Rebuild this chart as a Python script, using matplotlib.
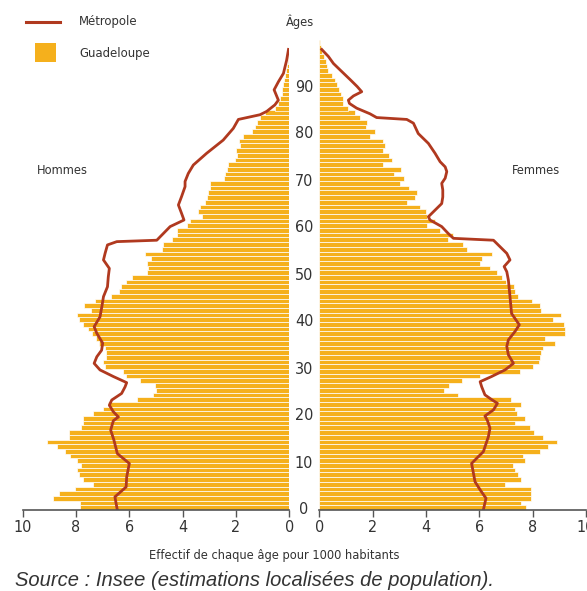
import matplotlib
matplotlib.use('Agg')
import matplotlib.pyplot as plt
from matplotlib.lines import Line2D
from matplotlib.patches import Rectangle
from matplotlib.transforms import blended_transform_factory

# --- data (per 1000 inhabitants) ---
ages = list(range(100))

hommes_gpe = [7.85, 7.85, 8.85, 8.62, 8.03, 7.37, 7.75, 7.90, 7.95, 7.80,
              7.97, 8.22, 8.43, 8.70, 9.10, 8.28, 8.25, 7.82, 7.72, 7.72,
              7.35, 7.00, 6.79, 5.72, 5.10, 5.00, 5.03, 5.60, 6.12, 6.22,
              6.91, 6.97, 6.87, 6.88, 6.92, 7.13, 7.26, 7.40, 7.54, 7.75,
              7.87, 7.97, 7.45, 7.70, 7.29, 6.70, 6.40, 6.30, 6.14, 5.90,
              5.35, 5.29, 5.35, 5.20, 5.41, 4.79, 4.72, 4.41, 4.22, 4.22,
              3.85, 3.72, 3.29, 3.41, 3.35, 3.16, 3.10, 3.04, 2.97, 2.97,
              2.45, 2.41, 2.32, 2.29, 2.04, 1.97, 2.00, 1.85, 1.87, 1.72,
              1.41, 1.29, 1.22, 1.10, 0.91, 0.54, 0.41, 0.35, 0.29, 0.29,
              0.22, 0.20, 0.16, 0.12, 0.10, 0.06, 0.04, 0.03, 0.02, 0.01]

femmes_gpe = [7.75, 7.56, 7.92, 7.93, 7.93, 6.96, 7.55, 7.46, 7.35, 7.25,
              7.71, 7.65, 8.27, 8.56, 8.90, 8.40, 8.05, 7.90, 7.34, 7.70,
              7.40, 7.34, 7.55, 7.18, 5.21, 4.68, 4.88, 5.34, 6.03, 7.53,
              8.00, 8.25, 8.27, 8.30, 8.40, 8.84, 8.46, 9.21, 9.21, 9.18,
              8.78, 9.05, 8.33, 8.27, 7.96, 7.46, 7.35, 7.30, 7.00, 6.84,
              6.65, 6.40, 6.03, 6.09, 6.46, 5.53, 5.40, 4.84, 5.00, 4.53,
              4.03, 4.34, 4.03, 4.00, 3.78, 3.30, 3.59, 3.68, 3.38, 3.03,
              3.18, 2.81, 3.05, 2.40, 2.71, 2.63, 2.38, 2.46, 2.38, 1.90,
              2.09, 1.75, 1.78, 1.53, 1.34, 1.09, 0.90, 0.88, 0.80, 0.75,
              0.68, 0.59, 0.49, 0.34, 0.30, 0.25, 0.18, 0.11, 0.06, 0.03]

metro_h_age = [0, 1.5, 2.8, 4.9, 7.0, 9.9, 12.0, 14.9, 17.0, 19.0,
               19.8, 20.9, 22.3, 23.4, 24.8, 26.2, 27.1, 28.4, 29.8, 31.2,
               32.6, 34.0, 35.5, 37.6, 39.0, 41.1, 43.3, 45.4, 47.5, 49.6,
               51.4, 53.2, 54.6, 56.4, 57.1, 57.4, 58.1, 60.3, 61.7, 63.1,
               64.9, 66.7, 68.8, 69.9, 71.6, 73.4, 75.9, 78.7, 81.2, 83.1,
               84.1, 84.8, 86.2, 87.2, 89.4, 91.1, 92.9, 95.7, 98.0]
metro_h = [6.45, 6.50, 6.54, 6.12, 6.10, 6.00, 6.45, 6.58, 6.70, 6.60,
           6.41, 6.60, 6.75, 6.66, 6.29, 6.16, 6.10, 6.60, 7.10, 7.32,
           7.22, 7.04, 7.00, 7.22, 7.32, 7.10, 7.03, 6.97, 6.82, 6.79,
           6.75, 6.97, 6.91, 6.82, 6.47, 4.97, 4.85, 4.47, 3.95, 4.04,
           4.16, 4.04, 3.91, 3.91, 3.79, 3.60, 3.10, 2.48, 2.10, 1.91,
           1.10, 0.85, 0.54, 0.41, 0.57, 0.41, 0.22, 0.10, 0.03]

metro_f_age = [0, 2.5, 4.3, 6.0, 7.8, 9.9, 11.0, 12.4, 15.6, 17.4,
               19.1, 20.0, 21.3, 22.7, 23.5, 24.5, 26.2, 27.3, 28.4, 29.8,
               31.2, 33.0, 34.8, 36.2, 38.0, 39.4, 41.8, 45.4, 48.9, 50.7,
               51.8, 53.2, 54.6, 56.0, 57.4, 57.8, 58.8, 60.3, 61.7, 62.4,
               63.8, 65.2, 66.6, 68.1, 69.5, 70.6, 72.0, 73.0, 74.1, 75.9,
               78.0, 80.1, 82.3, 83.1, 83.5, 84.3, 85.5, 86.5, 87.2, 88.1,
               89.0, 90.1, 91.5, 93.3, 95.0, 96.5, 98.0]
metro_f = [6.15, 6.25, 6.03, 5.84, 5.78, 5.71, 5.90, 6.15, 6.34, 6.40,
           6.30, 6.21, 6.53, 6.68, 6.46, 6.21, 6.09, 6.03, 6.46, 6.96,
           7.28, 7.09, 7.03, 7.09, 7.34, 7.50, 7.21, 7.15, 7.09, 7.03,
           6.93, 7.15, 7.03, 6.78, 6.53, 5.03, 4.84, 4.59, 4.15, 4.09,
           4.34, 4.59, 4.63, 4.63, 4.59, 4.72, 4.78, 4.72, 4.53, 4.34,
           4.09, 3.71, 3.53, 3.28, 2.15, 1.90, 1.40, 1.13, 1.09, 1.28,
           1.59, 1.42, 1.17, 0.84, 0.53, 0.34, 0.09]

xticks = [0, 2, 4, 6, 8, 10]
age_ticks = [0, 10, 20, 30, 40, 50, 60, 70, 80, 90]

ORANGE = '#f5b01c'
RED = '#b0391f'
TXT = '#333333'

plt.rcParams['font.family'] = ['DejaVu Sans']
plt.rcParams['font.stretch'] = 'condensed'

W, H = 587, 591
fig = plt.figure(figsize=(W / 100, H / 100), dpi=100)

ax_l = fig.add_axes([22.7 / W, (H - 510) / H, 266.6 / W, 470 / H])
ax_r = fig.add_axes([319.3 / W, (H - 510) / H, 266.7 / W, 470 / H])

for ax, vals, mage, mvals in [(ax_l, hommes_gpe, metro_h_age, metro_h),
                               (ax_r, femmes_gpe, metro_f_age, metro_f)]:
    ax.barh(ages, vals, height=1, align='edge', color=ORANGE,
            edgecolor='white', linewidth=0.5)
    ax.plot(mvals, mage, color=RED, lw=2.0, solid_joinstyle='round')
    ax.set_ylim(0, 100)
    ax.set_xticks(xticks)
    ax.set_yticks([])
    for s in ['top', 'left', 'right']:
        ax.spines[s].set_visible(False)
    ax.spines['bottom'].set_color('#555555')
    ax.spines['bottom'].set_linewidth(1.2)
    ax.tick_params(axis='x', direction='out', length=5, width=1,
                   color='#555555', labelsize=11.5, labelcolor=TXT, pad=2)

ax_l.set_xlim(10, 0)
ax_r.set_xlim(0, 10)

# age labels in the middle column
tr = blended_transform_factory(fig.transFigure, ax_r.transData)
for a in age_ticks:
    ax_r.text(304 / W, a, str(a), transform=tr, ha='center', va='center',
              fontsize=11.5, color=TXT, clip_on=False)

fig.text(300 / W, 1 - 22 / H, 'Âges', ha='center', va='center',
         fontsize=9.2, color=TXT)

# legend
fig.add_artist(Line2D([26 / W, 60 / W], [1 - 22 / H, 1 - 22 / H],
                      transform=fig.transFigure, color=RED, lw=2.2))
fig.add_artist(Rectangle((35 / W, 1 - 62 / H), 21 / W, 19 / H,
                         transform=fig.transFigure, color=ORANGE, lw=0))
fig.text(79 / W, 1 - 22 / H, 'Métropole', ha='left', va='center',
         fontsize=9.4, color=TXT)
fig.text(79 / W, 1 - 54 / H, 'Guadeloupe', ha='left', va='center',
         fontsize=9.4, color=TXT)

fig.text(37 / W, 1 - 170 / H, 'Hommes', ha='left', va='center',
         fontsize=9.2, color=TXT)
fig.text(512 / W, 1 - 170 / H, 'Femmes', ha='left', va='center',
         fontsize=9.2, color=TXT)

fig.text(274 / W, 1 - 555 / H, 'Effectif de chaque âge pour 1000 habitants',
         ha='center', va='center', fontsize=9.2, color=TXT)
fig.text(15 / W, 1 - 581 / H,
         'Source : Insee (estimations localisées de population).',
         ha='left', va='center', fontsize=14.5, style='italic',
         family='Liberation Sans', stretch='normal', color=TXT)

fig.savefig('out.png', dpi=100)
